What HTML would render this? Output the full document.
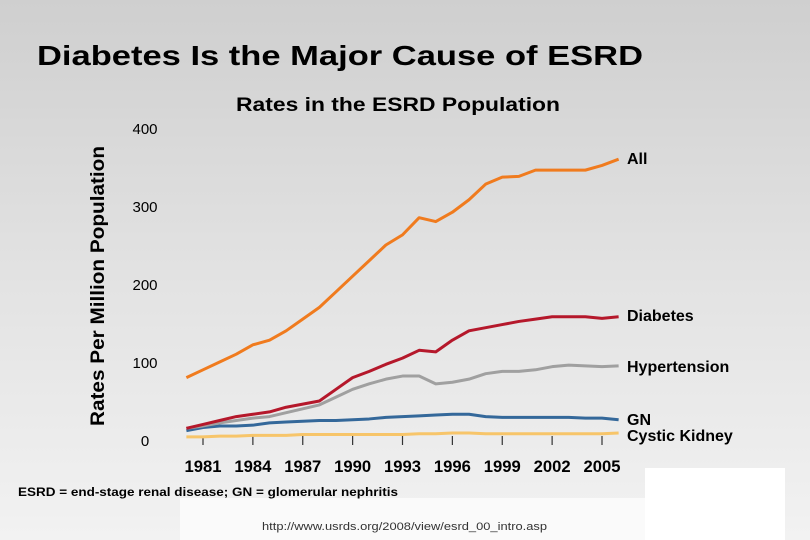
<!DOCTYPE html>
<html><head><meta charset="utf-8"><style>
html,body{margin:0;padding:0;width:810px;height:540px;overflow:hidden}
body{background:linear-gradient(#cfcfcf 0%,#e2e2e2 50%,#f2f2f2 100%);font-family:"Liberation Sans",sans-serif}
</style></head><body>
<svg id="chart" width="810" height="540" xmlns="http://www.w3.org/2000/svg" font-family="Liberation Sans, sans-serif">
<rect x="180" y="498" width="465" height="42" fill="#fafafa"/>
<rect x="645" y="468" width="140" height="72" fill="#ffffff"/>
<text x="37" y="65" font-size="28" font-weight="bold" textLength="606" lengthAdjust="spacingAndGlyphs">Diabetes Is the Major Cause of ESRD</text>
<text x="236" y="111" font-size="19" font-weight="bold" textLength="324" lengthAdjust="spacingAndGlyphs">Rates in the ESRD Population</text>
<text transform="translate(104,286) rotate(-90)" text-anchor="middle" font-size="19" font-weight="bold" textLength="280" lengthAdjust="spacingAndGlyphs">Rates Per Million Population</text>
<g id="yticks"></g><g id="xticks"></g><g id="lines"></g><g id="labels"></g>
<text x="18" y="496" font-size="12" font-weight="bold" textLength="380" lengthAdjust="spacingAndGlyphs">ESRD = end-stage renal disease; GN = glomerular nephritis</text>
<text x="262" y="530" font-size="11" fill="#333" textLength="285" lengthAdjust="spacingAndGlyphs">http://www.usrds.org/2008/view/esrd_00_intro.asp</text>
</svg>
<script>
const years=[1980,1981,1982,1983,1984,1985,1986,1987,1988,1989,1990,1991,1992,1993,1994,1995,1996,1997,1998,1999,2000,2001,2002,2003,2004,2005,2006];
const allVals=[80,90,100,110,122,128,140,155,170,190,210,230,250,263,285,280,292,308,328,337,338,346,346,346,346,352,360];
const diabetesVals=[15,20,25,30,33,36,42,46,50,65,80,88,97,105,115,113,128,140,144,148,152,155,158,158,158,156,158];
const hypertensionVals=[15,18,22,25,28,30,35,40,45,55,65,72,78,82,82,72,74,78,85,88,88,90,94,96,95,94,95];
const gnVals=[12,16,18,18,19,22,23,24,25,25,26,27,29,30,31,32,33,33,30,29,29,29,29,29,28,28,26];
const cysticVals=[4,4,5,5,6,6,6,7,7,7,7,7,7,7,8,8,9,9,8,8,8,8,8,8,8,8,9];
const yTicks=[0,100,200,300,400];
const xTickYears=[1981,1984,1987,1990,1993,1996,1999,2002,2005];
const seriesNames=["All","Diabetes","Hypertension","GN","Cystic Kidney"];
const NS="http://www.w3.org/2000/svg";
function xS(y){return 203+(y-1981)*16.625;}
function yS(v){return 440-v*0.78;}
function mk(t,a,p){const e=document.createElementNS(NS,t);for(const k in a)e.setAttribute(k,a[k]);p.appendChild(e);return e;}
const yt=document.getElementById('yticks');
yTicks.forEach(v=>{const t=mk('text',{x:145,y:yS(v)+6,'text-anchor':'middle','font-size':15},yt);


t.textContent=v;});
const xt=document.getElementById('xticks');
xTickYears.forEach(y=>{const l=mk('line',{x1:xS(y),x2:xS(y),y1:436,y2:445,stroke:'#333','stroke-width':1.2},xt);


const t=mk('text',{x:xS(y),y:472,'text-anchor':'middle','font-size':17,'font-weight':'bold',textLength:37,lengthAdjust:'spacingAndGlyphs'},xt);


t.textContent=y;});
const series=[[allVals,'#f07b1e'],[diabetesVals,'#b5182b'],[hypertensionVals,'#a0a0a0'],[gnVals,'#34689a'],[cysticVals,'#f7c56a']];
const lg=document.getElementById('lines');
series.slice().reverse().forEach((s,i)=>{const d=s[0].map((v,j)=>(j?'L':'M')+xS(years[j])+','+yS(v)).join(' ');
const p=mk('path',{d:d,fill:'none',stroke:s[1],'stroke-width':3,'stroke-linejoin':'round'},lg);

});
const labY=[158,315,366,419,435];
const lb=document.getElementById('labels');
seriesNames.forEach((n,i)=>{const t=mk('text',{x:627,y:labY[i]+6,'font-size':16,'font-weight':'bold'},lb);


t.textContent=n;});
</script>
</body></html>
